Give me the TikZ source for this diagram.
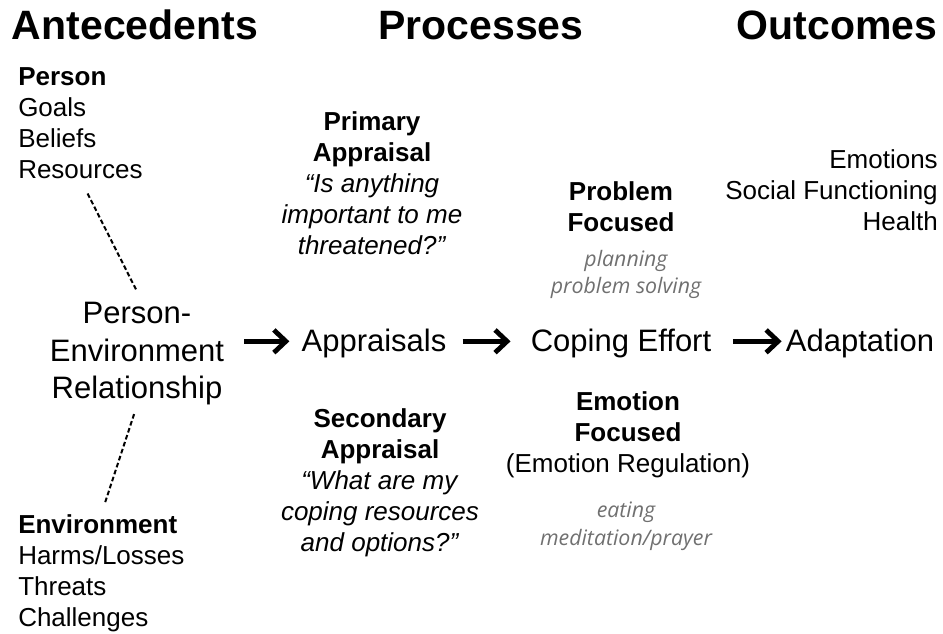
\documentclass[tikz,border=0pt]{standalone}
\usepackage{fontspec}
\setmainfont{Liberation Sans}
\newfontfamily\examplefont{Open Sans}
\usetikzlibrary{arrows.meta}

\definecolor{exgrey}{RGB}{112,112,112}

\tikzset{
    heading/.style={inner sep=0pt, anchor=base, font=\fontsize{30.75}{36}\selectfont\bfseries},
    maintext/.style={inner sep=0pt, align=center, font=\fontsize{23.25}{28.1}\selectfont},
    listtext/.style={inner sep=0pt, font=\fontsize{19.5}{23.4}\selectfont},
    examples/.style={inner sep=0pt, align=center, text=exgrey, font=\examplefont\itshape\fontsize{16}{20.5}\selectfont},
    flow/.style={line width=3.6pt, -{Straight Barb[length=9pt, width=17pt]}},
    link/.style={line width=1.5pt, dash pattern={on 3.5pt off 2pt}}
}

\begin{document}
\begin{tikzpicture}[x=0.75pt,y=0.75pt,yscale=-1,xscale=1]
        \useasboundingbox (0,0) rectangle (943,634);

        %Column headings
        \node[heading] (antecedents) at (135,40) {Antecedents};
        \node[heading] (processes) at (481,40) {Processes};
        \node[heading] (outcomes) at (837,40) {Outcomes};

        %Antecedents
        \node[listtext, align=left, anchor=north west] (person) at (18,67)
            {\textbf{Person}\\Goals\\Beliefs\\Resources};
        \node[listtext, align=left, anchor=north west] (environment) at (18,514)
            {\textbf{Environment}\\Harms/Losses\\Threats\\Challenges};
        \node[maintext, anchor=north] (pe) at (137,302)
            {Person-\\Environment\\Relationship};

        %Main chain
        \node[maintext, anchor=base] (appraisals) at (374,352) {Appraisals};
        \node[maintext, anchor=base] (coping) at (621,352) {Coping Effort};
        \node[maintext, anchor=base] (adaptation) at (860,352) {Adaptation};

        %Appraisals above and below
        \node[listtext, align=center, anchor=north] (primary) at (372,111)
            {\textbf{Primary}\\\textbf{Appraisal}\\\textit{``Is anything}\\\textit{important to me}\\\textit{threatened?''}};
        \node[listtext, align=center, anchor=north] (secondary) at (380,408)
            {\textbf{Secondary}\\\textbf{Appraisal}\\\textit{``What are my}\\\textit{coping resources}\\\textit{and options?''}};

        %Coping above and below
        \node[listtext, align=center, anchor=north] (problem) at (621,181)
            {\textbf{Problem}\\\textbf{Focused}};
        \node[examples, anchor=north] (problemex) at (626,250)
            {planning\\problem solving};
        \node[listtext, align=center, anchor=north] (emotion) at (628,391)
            {\textbf{Emotion}\\\textbf{Focused}\\(Emotion Regulation)};
        \node[examples, anchor=north] (emotionex) at (626,502)
            {eating\\meditation/prayer};

        %Outcomes
        \node[listtext, align=right, anchor=north east] (results) at (938,149)
            {Emotions\\Social Functioning\\Health};

        %Straight Lines
        \draw[link, shorten <=12pt, shorten >=10pt] (person.south) -- ([xshift=4]pe.north);
        \draw[link, shorten <=7pt, shorten >=8pt] (pe.south) -- (environment.north);

        %Arrows
        \draw[flow, shorten <=15pt, shorten >=9pt] ([yshift=-2]pe.east |- appraisals.west) -- ([yshift=-2]appraisals.west);
        \draw[flow, shorten <=12pt, shorten >=15pt] ([yshift=-2]appraisals.east) -- ([yshift=-2]coping.west);
        \draw[flow, shorten <=16pt, shorten >=3pt] ([yshift=-2]coping.east) -- ([yshift=-2]adaptation.west);

\end{tikzpicture}
\end{document}
